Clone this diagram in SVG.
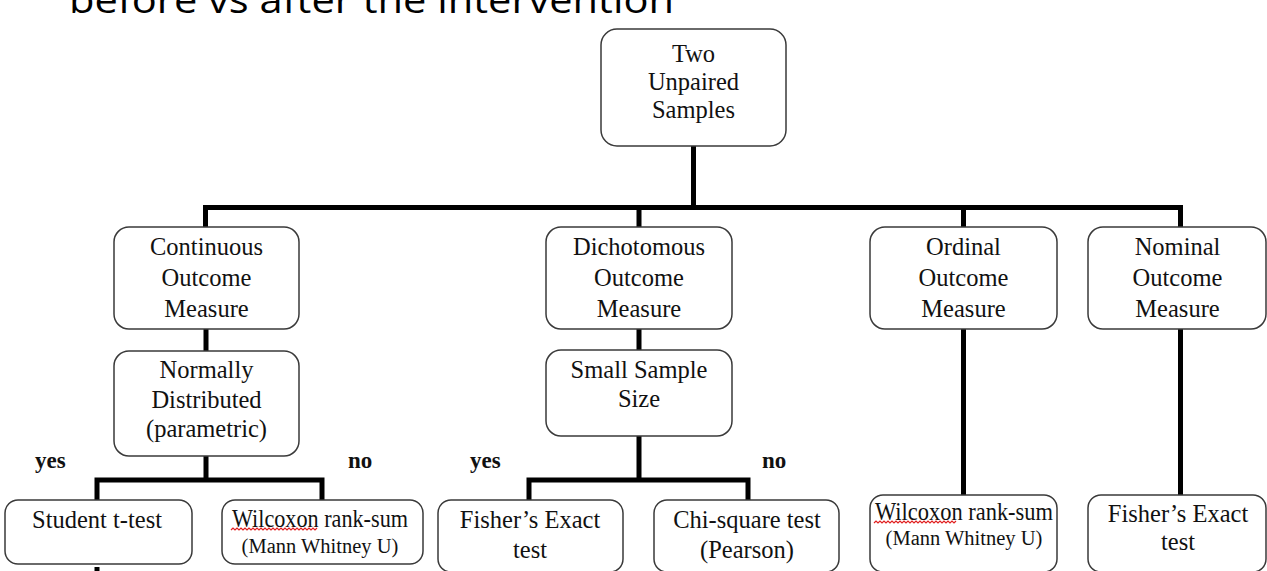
<svg xmlns="http://www.w3.org/2000/svg" width="1267" height="571" viewBox="0 0 1267 571">
<defs>
<style>
.box{fill:#fff;stroke:#3a3a3a;stroke-width:1.5}
.t{font-family:"Liberation Serif","Times New Roman",serif;font-size:24.5px;fill:#111;text-anchor:middle}
.s{font-size:20.5px}
.lbl{font-family:"Liberation Serif","Times New Roman",serif;font-size:23px;font-weight:bold;fill:#111}
.c{stroke:#000;stroke-width:5;fill:none;stroke-linecap:butt;stroke-linejoin:miter}
.sq{stroke:#e02020;stroke-width:1.2;fill:none}
</style>
</defs>
<rect width="1267" height="571" fill="#fff"/>
<text x="69" y="12.5" font-family="'Open Sans',sans-serif" font-size="36" fill="#000" textLength="605" lengthAdjust="spacingAndGlyphs">before vs after the intervention</text>

<g id="connectors">
<path class="c" d="M693.5 146V207.5M205.5 227V207.5H1180.5V227M639 207.5V227M963.5 207.5V227"/>
<path class="c" d="M206 329V351M206 456V480M97 500V480H322V500"/>
<path class="c" d="M639 329V350M639 436V480M529 500V480H748V500"/>
<path class="c" d="M963.5 329V495M1180.5 329V495"/>
<path d="M97 567V571" stroke="#000" stroke-width="5"/>
</g>

<g id="n-root"><rect class="box" x="601" y="29" width="185" height="117" rx="16"/>
<text class="t" x="693.5" y="62" font-size="24">Two</text><text class="t" x="693.5" y="90" font-size="24">Unpaired</text><text class="t" x="693.5" y="118" font-size="24">Samples</text></g>

<g id="n-continuous"><rect class="box" x="114" y="227" width="185" height="102" rx="15"/>
<text class="t" x="206.5" y="255">Continuous</text><text class="t" x="206.5" y="286">Outcome</text><text class="t" x="206.5" y="317">Measure</text></g>

<g id="n-dichotomous"><rect class="box" x="546" y="227" width="186" height="102" rx="15"/>
<text class="t" x="639" y="255">Dichotomous</text><text class="t" x="639" y="286">Outcome</text><text class="t" x="639" y="317">Measure</text></g>

<g id="n-ordinal"><rect class="box" x="870" y="227" width="187" height="102" rx="15"/>
<text class="t" x="963.5" y="255">Ordinal</text><text class="t" x="963.5" y="286">Outcome</text><text class="t" x="963.5" y="317">Measure</text></g>

<g id="n-nominal"><rect class="box" x="1088" y="227" width="178" height="102" rx="15"/>
<text class="t" x="1177.5" y="255">Nominal</text><text class="t" x="1177.5" y="286">Outcome</text><text class="t" x="1177.5" y="317">Measure</text></g>

<g id="n-normal"><rect class="box" x="114" y="351" width="185" height="105" rx="15"/>
<text class="t" x="206.5" y="378">Normally</text><text class="t" x="206.5" y="408">Distributed</text><text class="t" x="206.5" y="437">(parametric)</text></g>

<g id="n-small"><rect class="box" x="546" y="350" width="186" height="86" rx="15"/>
<text class="t" x="639" y="378">Small Sample</text><text class="t" x="639" y="407">Size</text></g>

<g id="labels">
<text class="lbl" x="35" y="468">yes</text><text class="lbl" x="348" y="468">no</text>
<text class="lbl" x="470" y="468">yes</text><text class="lbl" x="762" y="468">no</text>
</g>

<g id="n-ttest"><rect class="box" x="5" y="500" width="187" height="64" rx="13"/>
<text class="t" x="97" y="528">Student t-test</text></g>

<g id="n-wilcoxon1"><rect class="box" x="222" y="500" width="201" height="64" rx="13"/>
<text class="t" x="320" y="527" textLength="176" lengthAdjust="spacingAndGlyphs">Wilcoxon rank-sum</text>
<text class="t s" x="320" y="553">(Mann Whitney U)</text>
<path class="sq" d="M231 530l2-2 2 2 2-2 2 2 2-2 2 2 2-2 2 2 2-2 2 2 2-2 2 2 2-2 2 2 2-2 2 2 2-2 2 2 2-2 2 2 2-2 2 2 2-2 2 2 2-2 2 2 2-2 2 2 2-2 2 2 2-2 2 2 2-2 2 2 2-2 2 2 2-2 2 2 2-2 2 2 2-2 2 2 2-2"/></g>

<g id="n-fisher1"><rect class="box" x="438" y="500" width="185" height="72" rx="13"/>
<text class="t" x="530" y="528">Fisher’s Exact</text><text class="t" x="530" y="558">test</text></g>

<g id="n-chi"><rect class="box" x="654" y="500" width="185" height="72" rx="13"/>
<text class="t" x="747" y="528">Chi-square test</text><text class="t" x="747" y="558">(Pearson)</text></g>

<g id="n-wilcoxon2"><rect class="box" x="870" y="495" width="187" height="77" rx="13"/>
<text class="t" x="964" y="520" textLength="178" lengthAdjust="spacingAndGlyphs">Wilcoxon rank-sum</text>
<text class="t s" x="964" y="545">(Mann Whitney U)</text>
<path class="sq" d="M874 523l2-2 2 2 2-2 2 2 2-2 2 2 2-2 2 2 2-2 2 2 2-2 2 2 2-2 2 2 2-2 2 2 2-2 2 2 2-2 2 2 2-2 2 2 2-2 2 2 2-2 2 2 2-2 2 2 2-2 2 2 2-2 2 2 2-2 2 2 2-2 2 2 2-2 2 2 2-2 2 2 2-2"/></g>

<g id="n-fisher2"><rect class="box" x="1088" y="495" width="178" height="77" rx="13"/>
<text class="t" x="1178" y="522">Fisher’s Exact</text><text class="t" x="1178" y="550">test</text></g>
</svg>
